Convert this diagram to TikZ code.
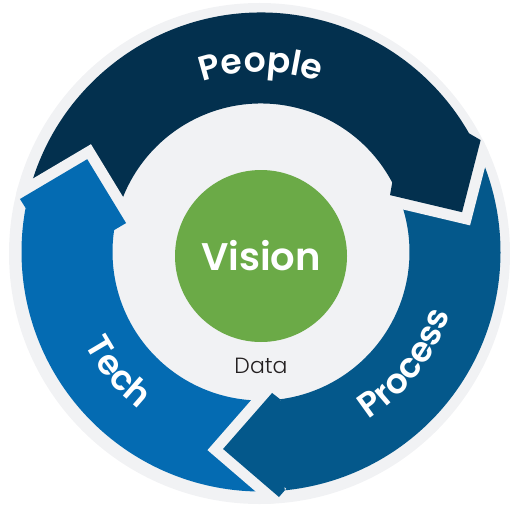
\documentclass[tikz,border=0pt]{standalone}
\usepackage{fontspec}
\setmainfont{Poppins}
\newfontfamily\semifont{Poppins SemiBold}
\newfontfamily\lightfont{Poppins Light}
\usetikzlibrary{decorations.text}

\definecolor{peoplenavy}{HTML}{03304E}
\definecolor{processblue}{HTML}{04588B}
\definecolor{techblue}{HTML}{046BB2}
\definecolor{visiongreen}{HTML}{6BAA47}
\definecolor{ringgray}{HTML}{F1F2F4}
\definecolor{datagray}{HTML}{231F20}

\tikzset{
	gapline/.style={draw=ringgray, line width=22pt, line join=miter},
	arclabel/.style={decorate, decoration={text along path, text align=center, text color=white}}
}
\newcommand{\arcfont}{\semifont\fontsize{34.5}{40}\selectfont}

\begin{document}
\begin{tikzpicture}[x=1pt, y=1pt]
				\useasboundingbox (0,0) rectangle (510,504);
				\fill[ringgray] (259.5,250.5) circle (250.5);

				\begin{scope}[shift={(261,252)}]
				% ring parts, each from the head of the one before
				\fill[peoplenavy] (169:239.5) arc[start angle=169, end angle=27, radius=239.5]
				-- (27:148.5) arc[start angle=27, end angle=169, radius=148.5] -- cycle;
				\fill[processblue] (27:239.5) arc[start angle=27, end angle=-85, radius=239.5]
				-- (-85:148.5) arc[start angle=-85, end angle=27, radius=148.5] -- cycle;
				\fill[techblue] (-85:239.5) arc[start angle=-85, end angle=-191, radius=239.5]
				-- (-191:148.5) arc[start angle=-191, end angle=-85, radius=148.5] -- cycle;

				% light gaps in front of the heads
				\begin{scope}
				\clip (-1.5,-1.5) circle (250.5);
				\draw[gapline] (27:246.5) -- (11.2:205) -- (23.8:141);
				\draw[gapline] (-85.8:245.7) -- (-100.9:200.6) -- (-85.5:141.4);
				\draw[gapline] (167.6:246.8) -- (151.9:197) -- (167.9:138);
				\end{scope}

				% heads
				\fill[peoplenavy] (29.7:239.5) -- (27:246.5) -- (11.2:205) -- (23.8:141) -- (27.9:148.5) -- cycle;
				\fill[processblue] (-84.3:239.5) -- (-85.8:245.7) -- (-100.9:200.6) -- (-85.5:141.4) -- (-82.6:148.5) -- cycle;
				\fill[techblue] (169.4:239.5) -- (167.6:246.8) -- (151.9:197) -- (167.9:138) -- (171.5:148.5) -- cycle;

				\path[arclabel, decoration={text={|\arcfont|People}}]
				(120:180) arc[start angle=120, end angle=60, radius=180];
				\path[arclabel, decoration={text={|\arcfont|Process}}]
				(-67.7:199) arc[start angle=-67.7, end angle=-7.7, radius=199];
				\path[arclabel, decoration={text={|\arcfont|Tech}}]
				(190:199) arc[start angle=190, end angle=250, radius=199];
				\end{scope}

				\node[circle, fill=visiongreen, minimum size=172pt, inner sep=0pt, text=white,
				font=\semifont\fontsize{38.5}{44}\selectfont] (vision) at (261,248) {Vision};
				\node[anchor=base, text=datagray, font=\lightfont\fontsize{22}{26}\selectfont] (data) at (261,131) {Data};
\end{tikzpicture}
\end{document}
